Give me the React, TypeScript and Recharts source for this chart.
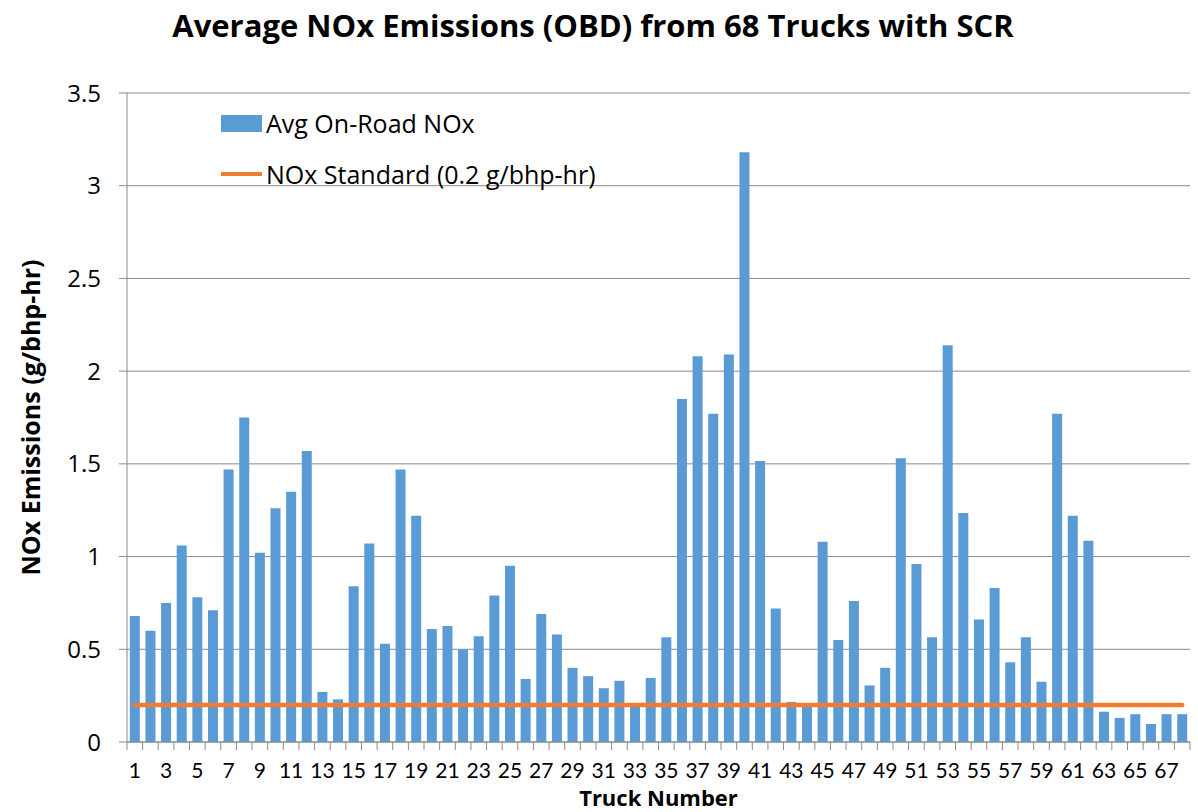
import React from 'react';
import { ComposedChart, Bar, XAxis, YAxis, CartesianGrid, ReferenceLine } from 'recharts';

// Truck numbers (categories)
const trucks = [
  '1', '2', '3', '4', '5', '6', '7', '8', '9', '10',
  '11', '12', '13', '14', '15', '16', '17', '18', '19', '20',
  '21', '22', '23', '24', '25', '26', '27', '28', '29', '30',
  '31', '32', '33', '34', '35', '36', '37', '38', '39', '40',
  '41', '42', '43', '44', '45', '46', '47', '48', '49', '50',
  '51', '52', '53', '54', '55', '56', '57', '58', '59', '60',
  '61', '62', '63', '64', '65', '66', '67', '68',
];

// Avg on-road NOx (g/bhp-hr)
const avgNox = [
  0.68, 0.60, 0.75, 1.06, 0.78, 0.71, 1.47, 1.75, 1.02, 1.26,
  1.35, 1.57, 0.27, 0.23, 0.84, 1.07, 0.53, 1.47, 1.22, 0.61,
  0.625, 0.50, 0.57, 0.79, 0.95, 0.34, 0.69, 0.58, 0.40, 0.355,
  0.29, 0.33, 0.19, 0.345, 0.565, 1.85, 2.08, 1.77, 2.09, 3.18,
  1.515, 0.72, 0.216, 0.19, 1.08, 0.55, 0.76, 0.305, 0.40, 1.53,
  0.96, 0.565, 2.14, 1.235, 0.66, 0.83, 0.43, 0.565, 0.325, 1.77,
  1.22, 1.085, 0.163, 0.13, 0.15, 0.097, 0.15, 0.15,
];

const noxStandard = 0.2;
const yTicks = [0, 0.5, 1, 1.5, 2, 2.5, 3, 3.5];

const FONT = '"Open Sans", Lato, sans-serif';
const NARROW = 'Lato, "Open Sans", sans-serif';
const BLUE = '#5B9BD5';
const ORANGE = '#ED7D31';
const GRID = '#8a8a8a';

const WIDTH = 1198;
const HEIGHT = 812;
const MARGIN = { top: 93, right: 8, bottom: 30, left: 67 };
const Y_AXIS_W = 60;
const BAND = (WIDTH - MARGIN.left - MARGIN.right - Y_AXIS_W) / trucks.length;

const chartData = trucks.map((t, i) => ({ truck: t, nox: avgNox[i] }));

// Excel-style tick: marks between categories, label on every other truck
const TruckTick = (props: any) => {
  const { x, y, payload, index } = props;
  const last = index === trucks.length - 1;
  return (
    <g>
      <line x1={x - BAND / 2} x2={x - BAND / 2} y1={y} y2={y + 8} stroke={GRID} />
      {last && <line x1={x + BAND / 2} x2={x + BAND / 2} y1={y} y2={y + 8} stroke={GRID} />}
      {index % 2 === 0 && (
        <text x={x} y={y + 36} textAnchor="middle" fontFamily={NARROW} fontSize={21} fill="#000">
          {payload.value}
        </text>
      )}
    </g>
  );
};

const YLabel = (props: any) => {
  const { viewBox } = props;
  const cx = 30;
  const cy = viewBox.y + viewBox.height / 2;
  return (
    <text
      x={cx}
      y={cy}
      transform={`rotate(-90 ${cx} ${cy})`}
      textAnchor="middle"
      dominantBaseline="central"
      fontFamily={FONT}
      fontWeight="bold"
      fontSize={25}
      fill="#000"
    >
      NOx Emissions (g/bhp-hr)
    </text>
  );
};

const ChartLegend = () => (
  <div style={{ position: 'absolute', left: 221, top: 107, fontFamily: FONT, fontSize: 25, color: '#000' }}>
    <div style={{ display: 'flex', alignItems: 'center', height: 32 }}>
      <span style={{ display: 'inline-block', width: 41, height: 17, background: BLUE, marginRight: 4 }} />
      <span>Avg On-Road NOx</span>
    </div>
    <div style={{ display: 'flex', alignItems: 'center', height: 32, marginTop: 19 }}>
      <span style={{ display: 'inline-block', width: 41, height: 4, background: ORANGE, marginRight: 4 }} />
      <span>NOx Standard (0.2 g/bhp-hr)</span>
    </div>
  </div>
);

export default function App() {
  return (
    <div style={{ position: 'absolute', left: 0, top: 0, width: WIDTH, height: HEIGHT, background: '#fff' }}>
      <div
        style={{
          position: 'absolute',
          left: 0,
          top: 7,
          width: 1186,
          textAlign: 'center',
          fontFamily: FONT,
          fontWeight: 'bold',
          fontSize: 31,
          lineHeight: '36px',
          color: '#000',
        }}
      >
        Average NOx Emissions (OBD) from 68 Trucks with SCR
      </div>
      <ComposedChart width={WIDTH} height={HEIGHT} data={chartData} margin={MARGIN} barCategoryGap="18%">
        <CartesianGrid vertical={false} stroke={GRID} />
        <XAxis
          dataKey="truck"
          interval={0}
          height={40}
          tickSize={0}
          tickMargin={0}
          tick={<TruckTick />}
          axisLine={{ stroke: GRID }}
          label={{
            value: 'Truck Number',
            position: 'bottom',
            offset: 8,
            style: { fontFamily: FONT, fontWeight: 'bold', fontSize: 22, fill: '#000' },
          }}
        />
        <YAxis
          width={Y_AXIS_W}
          domain={[0, 3.5]}
          ticks={yTicks}
          tickSize={8}
          tickMargin={18}
          axisLine={{ stroke: GRID }}
          tickLine={{ stroke: GRID }}
          tick={{ fontFamily: FONT, fontSize: 24, fill: '#000' }}
          label={<YLabel />}
        />
        <Bar dataKey="nox" fill={BLUE} isAnimationActive={false} />
        <ReferenceLine
          segment={[
            { x: trucks[0], y: noxStandard },
            { x: trucks[trucks.length - 1], y: noxStandard },
          ]}
          stroke={ORANGE}
          strokeWidth={4.5}
          strokeLinecap="round"
          ifOverflow="visible"
        />
      </ComposedChart>
      <ChartLegend />
    </div>
  );
}
